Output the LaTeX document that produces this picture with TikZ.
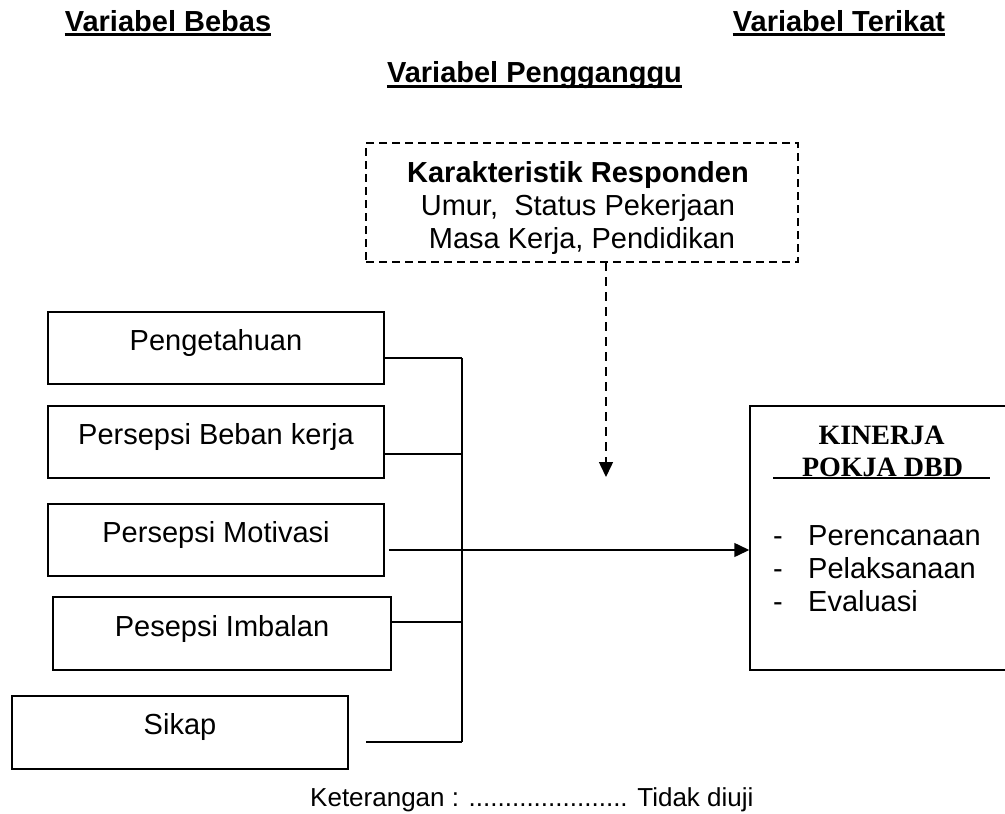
\documentclass[tikz,border=0pt]{standalone}
\usepackage{fontspec}
\setmainfont{Liberation Sans}
\newfontfamily\timesf{Liberation Serif}
\usetikzlibrary{arrows.meta}
\begin{document}
\begin{tikzpicture}[x=1pt,y=-1pt,
  box/.style={draw,line width=1.5pt,inner sep=0pt},
  dbox/.style={draw,line width=1.5pt,inner sep=0pt,dash pattern=on 8pt off 5pt},
  txt/.style={inner sep=0pt,anchor=base,font=\fontsize{29}{33}\selectfont},
  ttl/.style={inner sep=0pt,anchor=base,font=\fontsize{29}{33}\selectfont\bfseries},
  ul/.style={line width=3.5pt},
  conn/.style={line width=1.5pt},
  tip/.style={-{Triangle[length=15pt,width=14pt]}}
]
\useasboundingbox (0,0) rectangle (1005,814);

% titles
\node[ttl] (t1) at (168,31) {Variabel Bebas};
\draw[ul] ([yshift=-3.5pt]t1.base west) -- ([yshift=-3.5pt]t1.base east);
\node[ttl] (t2) at (839,31) {Variabel Terikat};
\draw[ul] ([yshift=-3.5pt]t2.base west) -- ([yshift=-3.5pt]t2.base east);
\node[ttl] (t3) at (534.5,82) {Variabel Pengganggu};
\draw[ul] ([yshift=-4.5pt]t3.base west) -- ([yshift=-4.5pt]t3.base east);

% confounder box
\node[dbox,minimum width=432pt,minimum height=119pt] (d) at (582,202.5) {};
\node[txt,font=\fontsize{29}{33}\selectfont\bfseries] (d1) at (578,182) {Karakteristik Responden};
\node[txt] (d2) at (578,215) {Umur,\ \ Status Pekerjaan};
\node[txt] (d3) at (582,248) {Masa Kerja, Pendidikan};

% independent variable boxes
\node[box,minimum width=336pt,minimum height=72pt] (p1) at (216,348) {};
\node[txt] (l1) at (216,350.5) {Pengetahuan};
\node[box,minimum width=336pt,minimum height=72pt] (p2) at (216,442) {};
\node[txt] (l2) at (216,444.5) {Persepsi Beban kerja};
\node[box,minimum width=336pt,minimum height=72pt] (p3) at (216,540) {};
\node[txt] (l3) at (216,542.5) {Persepsi Motivasi};
\node[box,minimum width=338pt,minimum height=73pt] (p4) at (222,633.5) {};
\node[txt] (l4) at (222,636.5) {Pesepsi Imbalan};
\node[box,minimum width=336pt,minimum height=73pt] (p5) at (180,732.5) {};
\node[txt] (l5) at (180,734.5) {Sikap};

% dependent variable box
\node[box,minimum width=262pt,minimum height=264pt] (k) at (881,538) {};
\node[txt,font=\fontsize{28}{32}\selectfont\timesf\bfseries] (k1) at (881.5,444) {KINERJA};
\node[txt,font=\fontsize{28}{32}\selectfont\timesf\bfseries] (k2) at (882.5,476) {POKJA DBD};
\coordinate (u0) at (773,478);
\coordinate (u1) at (990,478);
\draw[line width=2pt] (u0) -- (u1);
\node[txt,anchor=base west] (e1) at (773,545) {-};
\node[txt,anchor=base west] (f1) at (808,545) {Perencanaan};
\node[txt,anchor=base west] (e2) at (773,578) {-};
\node[txt,anchor=base west] (f2) at (808,578) {Pelaksanaan};
\node[txt,anchor=base west] (e3) at (773,611) {-};
\node[txt,anchor=base west] (f3) at (808,611) {Evaluasi};

% bus connectors
\coordinate (b1) at (462,358);
\coordinate (b2) at (462,454);
\coordinate (b4) at (462,622);
\coordinate (b5) at (462,742);
\coordinate (s0) at (366,742);
\coordinate (m0) at (389,550);
\draw[conn] (p1.east |- b1) -- (b1);
\draw[conn] (p2.east |- b2) -- (b2);
\draw[conn] (p4.east |- b4) -- (b4);
\draw[conn] (s0) -- (b5);
\draw[conn] (b1) -- (b5);
\draw[conn,tip] (m0) -- (k.west |- m0);

% dashed influence arrow
\coordinate (a0) at (606,262);
\coordinate (a1) at (606,477);
\draw[conn,dash pattern=on 9pt off 6pt,tip] (a0) -- (a1);

% legend
\node[txt,anchor=base west,font=\fontsize{26}{30}\selectfont] (ket) at (310,806) {Keterangan : ...................... Tidak diuji};
\end{tikzpicture}
\end{document}
